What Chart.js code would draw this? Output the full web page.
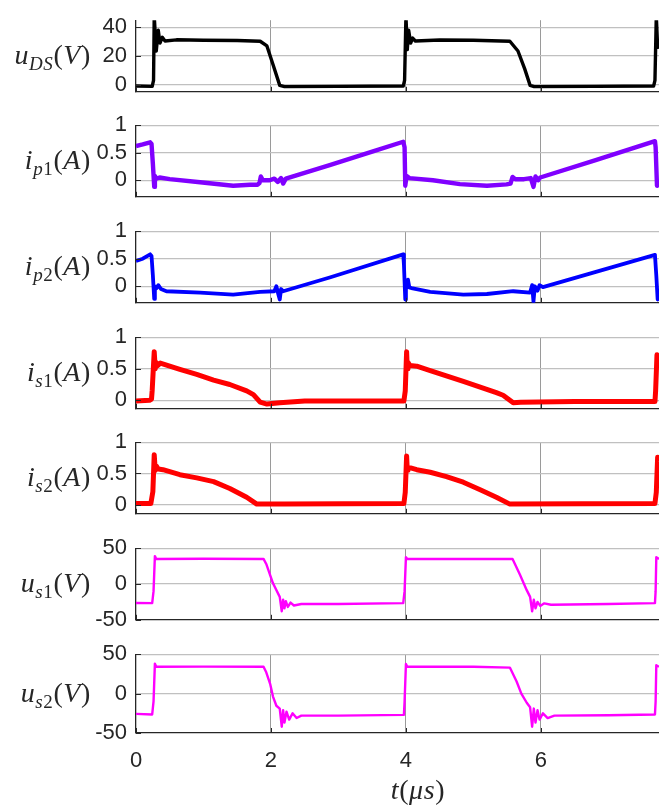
<!DOCTYPE html>
<html>
<head>
<meta charset="utf-8">
<script src="https://cdn.jsdelivr.net/npm/chart.js@4.4.1/dist/chart.umd.min.js"></script>
<style>
  body { margin: 0; background: #fff; width: 659px; height: 806px; position: relative; overflow: hidden; }
  .p { position: absolute; left: 0; width: 659px; }
</style>
</head>
<body>
<div class="p" id="w0"><canvas id="c0"></canvas></div>
<div class="p" id="w1"><canvas id="c1"></canvas></div>
<div class="p" id="w2"><canvas id="c2"></canvas></div>
<div class="p" id="w3"><canvas id="c3"></canvas></div>
<div class="p" id="w4"><canvas id="c4"></canvas></div>
<div class="p" id="w5"><canvas id="c5"></canvas></div>
<div class="p" id="w6"><canvas id="c6"></canvas></div>
<script>
// time axis (us)
var tTicks = [0, 2, 4, 6];
var tMax = 7.75;

// waveforms: [t (us), value]
var uDS = [[0,-1],[0.24,-1.2],[0.26,3],[0.27,48],[0.3,23.5],[0.33,38],[0.355,29],[0.39,33],[0.43,30.5],[0.6,31.3],[1.0,31],[1.5,30.8],[1.84,30.3],
  [1.94,27],[2.03,14],[2.13,-0.5],[2.2,-1.4],[3.0,-1.2],[3.96,-1],[3.98,3],[4.0,48],[4.02,24.5],[4.04,38],[4.07,29],[4.1,32.5],[4.14,30.5],
  [4.5,31.2],[5.0,31],[5.54,30.3],[5.66,23.5],[5.76,11],[5.84,-0.5],[5.9,-1.4],[6.8,-1.2],[7.67,-1],[7.69,3],[7.71,48],[7.73,26],[7.75,30]];

var ip1 = [[0,0.62],[0.1,0.65],[0.21,0.69],[0.23,0.66],[0.25,0.3],[0.27,-0.12],[0.28,0.08],[0.3,0.03],[0.35,0.05],[0.5,0.02],[0.95,-0.035],
  [1.44,-0.1],[1.69,-0.08],[1.8,-0.08],[1.83,-0.05],[1.85,0.07],[1.88,0.0],[1.98,0.0],[2.05,0.03],[2.1,-0.03],[2.15,0.04],[2.18,-0.06],
  [2.22,0.03],[2.87,0.275],[3.5,0.52],[3.96,0.7],[3.98,0.6],[3.99,-0.1],[4.01,0.08],[4.05,0.04],[4.4,0.0],[4.8,-0.07],[5.2,-0.1],
  [5.49,-0.075],[5.55,-0.06],[5.58,0.06],[5.62,0.02],[5.75,0.02],[5.85,0.04],[5.89,-0.12],[5.92,0.07],[5.96,0.0],[5.99,0.05],
  [6.8,0.36],[7.69,0.71],[7.7,0.6],[7.72,-0.1],[7.75,-0.08]];

var ip2 = [[0,0.46],[0.1,0.5],[0.21,0.58],[0.23,0.55],[0.25,0.2],[0.27,-0.23],[0.28,0.0],[0.3,-0.04],[0.33,0.02],[0.37,-0.05],[0.45,-0.09],
  [0.95,-0.115],[1.44,-0.15],[1.69,-0.12],[1.84,-0.1],[2.05,-0.09],[2.08,0.0],[2.11,-0.15],[2.13,-0.24],[2.15,-0.05],[2.18,-0.09],
  [2.87,0.16],[3.96,0.58],[3.97,0.4],[3.99,-0.24],[4.0,-0.05],[4.03,0.12],[4.05,-0.02],[4.1,-0.04],[4.36,-0.1],[4.85,-0.15],[5.2,-0.14],
  [5.59,-0.09],[5.84,-0.115],[5.87,0.02],[5.89,-0.28],[5.91,0.0],[5.95,-0.08],[5.98,0.02],[6.03,-0.015],[7.69,0.57],[7.71,0.2],[7.73,-0.24],[7.75,-0.2]];

var is1 = [[0,-0.01],[0.2,0.0],[0.23,0.02],[0.24,0.16],[0.27,0.77],[0.285,0.5],[0.3,0.6],[0.32,0.55],[0.36,0.59],[0.65,0.49],[0.9,0.41],
  [1.15,0.32],[1.39,0.25],[1.64,0.15],[1.74,0.09],[1.84,-0.03],[1.94,-0.06],[2.13,-0.04],[2.5,-0.01],[3.0,-0.01],[3.97,-0.01],[3.99,0.15],
  [4.01,0.77],[4.02,0.5],[4.03,0.6],[4.06,0.55],[4.16,0.54],[4.36,0.47],[4.85,0.3],[5.34,0.12],[5.44,0.08],[5.59,-0.04],[5.7,-0.03],
  [6.5,-0.02],[7.69,-0.02],[7.7,0.15],[7.72,0.72],[7.75,0.62]];

var is2 = [[0,0.02],[0.22,0.02],[0.25,0.21],[0.27,0.8],[0.285,0.55],[0.3,0.62],[0.33,0.57],[0.4,0.56],[0.65,0.48],[0.9,0.43],[1.15,0.37],
  [1.39,0.26],[1.64,0.12],[1.79,0.01],[2.2,0.01],[3.97,0.02],[3.99,0.2],[4.01,0.78],[4.02,0.55],[4.03,0.6],[4.16,0.56],[4.36,0.52],
  [4.6,0.45],[4.85,0.36],[5.1,0.24],[5.34,0.12],[5.54,0.01],[7.69,0.02],[7.71,0.2],[7.73,0.76],[7.75,0.7]];

var us1 = [[0,-26.5],[0.24,-26.7],[0.26,-10],[0.28,39],[0.3,35],[1.0,35.2],[1.89,35],[1.93,28],[2.03,1],[2.13,-18],[2.16,-38],[2.18,-22],
  [2.2,-34],[2.22,-24],[2.25,-32],[2.29,-26],[2.34,-30],[2.45,-28],[3.0,-28],[3.96,-26.7],[3.98,-10],[4.0,37.5],[4.02,35],[5.0,35],
  [5.58,35],[5.69,12.8],[5.79,-8.6],[5.84,-18],[5.87,-38],[5.895,-22],[5.92,-34],[5.95,-25],[5.99,-30.6],[6.05,-27],[6.15,-29],
  [7.0,-28],[7.69,-26.7],[7.7,-10],[7.71,37.5],[7.75,35]];

var us2 = [[0,-25.7],[0.24,-26.5],[0.26,-10],[0.28,38],[0.3,34],[1.0,34.2],[1.89,34],[1.93,27],[1.99,11.6],[2.03,-3.8],[2.08,-15.4],
  [2.13,-19],[2.16,-42],[2.18,-21],[2.2,-36.8],[2.23,-23],[2.27,-33],[2.32,-25],[2.38,-31],[2.45,-28],[3.0,-28],[3.97,-27],[3.98,-10],
  [4.0,37.5],[4.02,34],[5.0,34],[5.54,33],[5.64,15.4],[5.71,0],[5.79,-11.6],[5.84,-17.4],[5.87,-42],[5.895,-19],[5.92,-36.8],[5.95,-21],
  [5.98,-33],[6.03,-25],[6.1,-31],[6.2,-28],[7.0,-27.5],[7.69,-26.5],[7.7,-10],[7.71,36],[7.75,34]];

// y ranges and ticks per panel
var yLimits = [[-5, 45], [-0.3, 1], [-0.3, 1], [-0.135, 1], [-0.145, 1], [-50, 50], [-50, 50]];
var yTicks = [[0, 20, 40], [0, 0.5, 1], [0, 0.5, 1], [0, 0.5, 1], [0, 0.5, 1], [-50, 0, 50], [-50, 0, 50]];

var panels = [
  { data: uDS, color: '#000000', lw: 3.4, name: 'u', sub: [['D', 1], ['S', 1]], unit: 'V' },
  { data: ip1, color: '#8000ff', lw: 4.4, name: 'i', sub: [['p', 1], ['1', 0]], unit: 'A' },
  { data: ip2, color: '#0000ff', lw: 3.8, name: 'i', sub: [['p', 1], ['2', 0]], unit: 'A' },
  { data: is1, color: '#ff0000', lw: 5, name: 'i', sub: [['s', 1], ['1', 0]], unit: 'A' },
  { data: is2, color: '#ff0000', lw: 5, name: 'i', sub: [['s', 1], ['2', 0]], unit: 'A' },
  { data: us1, color: '#ff00ff', lw: 2.4, name: 'u', sub: [['s', 1], ['1', 0]], unit: 'V' },
  { data: us2, color: '#ff00ff', lw: 2.4, name: 'u', sub: [['s', 1], ['2', 0]], unit: 'V' }
];

var tops = [13, 118, 224, 330, 435, 541, 647];
var plotH = 86;
var pad = 15;
var axisDark = '#262626';
var serif = "'Liberation Serif', 'DejaVu Serif', serif";
var sans = "'Liberation Sans', Arial, sans-serif";

// draw a list of [text, italic, size, dy] runs, anchored by align at x
function drawRuns(ctx, runs, x, y, align) {
  var w = 0;
  runs.forEach(function (r) {
    ctx.font = (r[1] ? 'italic ' : '') + r[2] + 'px ' + serif;
    r.w = ctx.measureText(r[0]).width + 0.6;
    w += r.w;
  });
  var cx = align === 'right' ? x - w : (align === 'center' ? x - w / 2 : x);
  ctx.fillStyle = axisDark;
  ctx.textAlign = 'left';
  ctx.textBaseline = 'alphabetic';
  runs.forEach(function (r) {
    ctx.font = (r[1] ? 'italic ' : '') + r[2] + 'px ' + serif;
    ctx.fillText(r[0], cx, y + (r[3] || 0));
    cx += r.w;
  });
}

var decor = {
  id: 'decor',
  afterDraw: function (chart, args, opts) {
    var ctx = chart.ctx, a = chart.chartArea, sx = chart.scales.x, sy = chart.scales.y;
    ctx.save();
    ctx.strokeStyle = axisDark;
    ctx.lineWidth = 1;
    opts.ticks.forEach(function (v) {
      var y = Math.round(sy.getPixelForValue(v)) + 0.5;
      ctx.beginPath(); ctx.moveTo(a.left, y); ctx.lineTo(a.left + 5, y); ctx.stroke();
    });
    tTicks.forEach(function (v) {
      var x = Math.round(sx.getPixelForValue(v)) + 0.5;
      ctx.beginPath(); ctx.moveTo(x, a.bottom); ctx.lineTo(x, a.bottom - 5); ctx.stroke();
    });
    var p = opts.panel;
    var runs = [[p.name, 1, 28, 0]];
    p.sub.forEach(function (s) { runs.push([s[0], s[1], 19, 6]); });
    runs.push(['(', 0, 28, 0], [p.unit, 1, 28, 0], [')', 0, 28, 0]);
    drawRuns(ctx, runs, 91, (a.top + a.bottom) / 2 + 8, 'right');
    if (opts.last) {
      drawRuns(ctx, [['t', 1, 28, 0], ['(', 0, 28, 0], ['\u03bc', 1, 28, 0], ['s', 1, 28, 0], [')', 0, 28, 0]], 418, a.bottom + 66, 'center');
    }
    ctx.restore();
  }
};

panels.forEach(function (p, i) {
  var last = i === panels.length - 1;
  var wrap = document.getElementById('w' + i);
  wrap.style.top = (tops[i] - pad) + 'px';
  wrap.style.height = (last ? 806 - tops[i] + pad : plotH + 2 * pad) + 'px';
  var lim = yLimits[i];

  new Chart(document.getElementById('c' + i), {
    type: 'line',
    data: {
      datasets: [{
        data: p.data.map(function (d) { return { x: d[0], y: d[1] }; }),
        borderColor: p.color,
        borderWidth: p.lw,
        borderJoinStyle: 'round',
        pointRadius: 0,
        tension: 0,
        fill: false,
        clip: 0
      }]
    },
    options: {
      responsive: true,
      maintainAspectRatio: false,
      animation: false,
      devicePixelRatio: 1,
      layout: { padding: { top: pad, bottom: last ? 0 : pad, left: 0, right: 0 } },
      plugins: {
        legend: { display: false },
        tooltip: { enabled: false },
        decor: { ticks: yTicks[i], panel: p, last: last }
      },
      scales: {
        x: {
          type: 'linear',
          min: 0,
          max: tMax,
          afterBuildTicks: function (s) { s.ticks = tTicks.map(function (v) { return { value: v }; }); },
          afterFit: function (s) { s.height = last ? 806 - (tops[i] + plotH) : 0; },
          grid: {
            color: function (c) { return c.tick && c.tick.value === 0 ? 'rgba(0,0,0,0)' : '#9a9a9a'; },
            lineWidth: 1,
            drawTicks: false
          },
          border: { color: axisDark, width: 1.3 },
          ticks: {
            display: last,
            padding: 15,
            maxRotation: 0,
            color: axisDark,
            font: { family: sans, size: 22 },
            callback: function (v) { return String(v); }
          }
        },
        y: {
          min: lim[0],
          max: lim[1],
          afterBuildTicks: function (s) { s.ticks = yTicks[i].map(function (v) { return { value: v }; }); },
          afterFit: function (s) { s.width = 136; },
          grid: {
            color: function (c) { return c.tick && c.tick.value === lim[0] ? 'rgba(0,0,0,0)' : '#c0c0c0'; },
            lineWidth: 1.3,
            drawTicks: false
          },
          border: { color: axisDark, width: 1.3 },
          ticks: {
            padding: 9,
            color: axisDark,
            font: { family: sans, size: 22 },
            callback: function (v) { return String(v); }
          }
        }
      }
    },
    plugins: [decor]
  });
});
</script>
</body>
</html>
